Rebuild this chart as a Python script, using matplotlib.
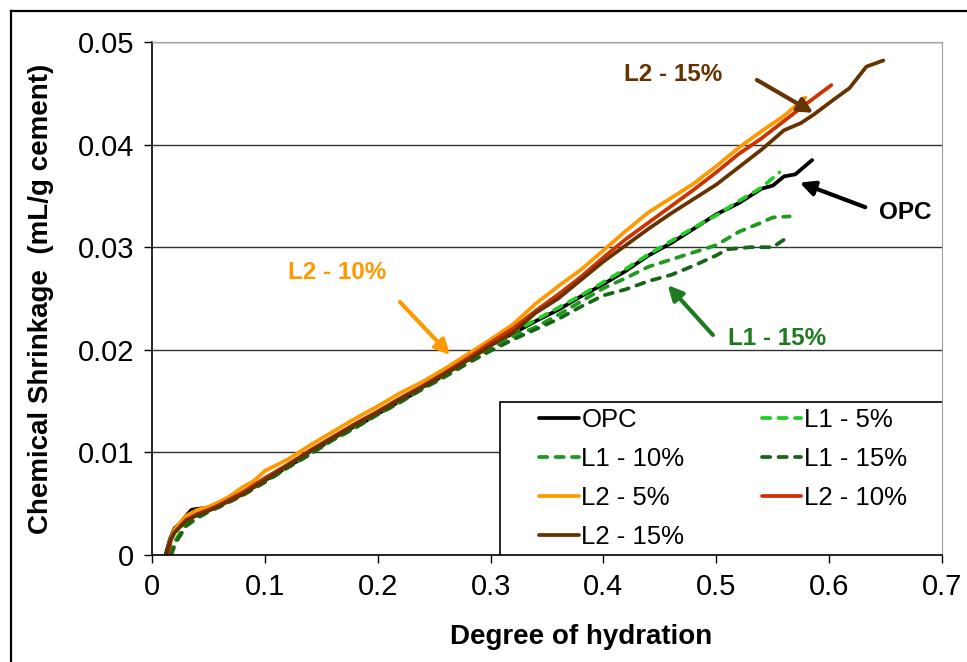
import matplotlib
matplotlib.use("Agg")
import matplotlib.pyplot as plt
from matplotlib.lines import Line2D
from matplotlib.patches import Rectangle

plt.rcParams["font.family"] = ["Liberation Sans", "DejaVu Sans"]

# ---- data ----
x_ticks = [0, 0.1, 0.2, 0.3, 0.4, 0.5, 0.6, 0.7]
x_tick_labels = ["0", "0.1", "0.2", "0.3", "0.4", "0.5", "0.6", "0.7"]
y_ticks = [0, 0.01, 0.02, 0.03, 0.04, 0.05]
y_tick_labels = ["0", "0.01", "0.02", "0.03", "0.04", "0.05"]

opc_x = [0.012, 0.016, 0.02, 0.025, 0.03, 0.035, 0.04, 0.05, 0.06, 0.07, 0.08, 0.09,
         0.10, 0.11, 0.12, 0.13, 0.14, 0.15, 0.16, 0.17, 0.18, 0.19, 0.20, 0.21, 0.22,
         0.23, 0.24, 0.25, 0.26, 0.27, 0.28, 0.29, 0.30, 0.32, 0.34, 0.36, 0.38, 0.40,
         0.42, 0.44, 0.46, 0.48, 0.50, 0.52, 0.54, 0.55, 0.56, 0.57, 0.585]
opc_y = [0.0, 0.0016, 0.0026, 0.0031, 0.0038, 0.0044, 0.0045, 0.0046, 0.0050, 0.0055,
         0.0060, 0.0066, 0.0073, 0.0078, 0.0087, 0.0092, 0.0101, 0.0106, 0.0114, 0.0119,
         0.0126, 0.0131, 0.0138, 0.0143, 0.0151, 0.0156, 0.0164, 0.0169, 0.0177, 0.0183,
         0.0191, 0.0197, 0.0205, 0.0216, 0.0228, 0.0239, 0.0252, 0.0264, 0.0277, 0.0292,
         0.0304, 0.0318, 0.0332, 0.0343, 0.0357, 0.0360, 0.0369, 0.0371, 0.0385]

l1_5_x = [0.015, 0.02, 0.025, 0.03, 0.04, 0.05, 0.06, 0.08, 0.10, 0.12, 0.14, 0.16,
          0.18, 0.20, 0.22, 0.24, 0.26, 0.28, 0.30, 0.32, 0.34, 0.36, 0.38, 0.40, 0.42,
          0.44, 0.46, 0.48, 0.50, 0.52, 0.54, 0.556]
l1_5_y = [0.0, 0.0012, 0.0022, 0.0030, 0.0038, 0.0043, 0.0048, 0.0058, 0.0072, 0.0085,
          0.0099, 0.0112, 0.0124, 0.0137, 0.0150, 0.0162, 0.0176, 0.0189, 0.0203, 0.0217,
          0.0229, 0.0241, 0.0253, 0.0266, 0.0279, 0.0293, 0.0306, 0.0319, 0.0331, 0.0345,
          0.0358, 0.0373]

l1_10_x = [0.016, 0.02, 0.025, 0.03, 0.04, 0.05, 0.06, 0.08, 0.10, 0.12, 0.14, 0.16,
           0.18, 0.20, 0.22, 0.24, 0.26, 0.28, 0.30, 0.32, 0.34, 0.36, 0.38, 0.40, 0.42,
           0.44, 0.46, 0.48, 0.50, 0.52, 0.54, 0.55, 0.565]
l1_10_y = [0.0, 0.0013, 0.0020, 0.0029, 0.0037, 0.0043, 0.0048, 0.0059, 0.0071, 0.0086,
           0.0098, 0.0113, 0.0124, 0.0138, 0.0149, 0.0163, 0.0175, 0.0189, 0.0201, 0.0213,
           0.0222, 0.0234, 0.0247, 0.0260, 0.0270, 0.0281, 0.0288, 0.0295, 0.0302, 0.0315,
           0.0324, 0.0329, 0.0330]

l1_15_x = [0.017, 0.021, 0.025, 0.03, 0.04, 0.05, 0.06, 0.08, 0.10, 0.12, 0.14, 0.16,
           0.18, 0.20, 0.22, 0.24, 0.26, 0.28, 0.30, 0.32, 0.34, 0.36, 0.38, 0.40, 0.42,
           0.44, 0.46, 0.48, 0.50, 0.51, 0.53, 0.55, 0.565]
l1_15_y = [0.0, 0.0012, 0.0019, 0.0028, 0.0036, 0.0042, 0.0047, 0.0058, 0.0071, 0.0085,
           0.0098, 0.0112, 0.0124, 0.0137, 0.0149, 0.0162, 0.0174, 0.0187, 0.0199, 0.0210,
           0.0220, 0.0230, 0.0242, 0.0253, 0.0259, 0.0267, 0.0273, 0.0282, 0.0292, 0.0298,
           0.0300, 0.0300, 0.0311]

l2_5_x = [0.013, 0.016, 0.02, 0.03, 0.04, 0.05, 0.06, 0.07, 0.08, 0.09, 0.10, 0.12,
          0.14, 0.16, 0.18, 0.20, 0.22, 0.24, 0.26, 0.28, 0.30, 0.32, 0.34, 0.36, 0.38,
          0.40, 0.42, 0.44, 0.46, 0.48, 0.50, 0.52, 0.54, 0.56, 0.579]
l2_5_y = [0.0, 0.0015, 0.0025, 0.0038, 0.0044, 0.0047, 0.0052, 0.0058, 0.0066, 0.0072,
          0.0082, 0.0093, 0.0107, 0.0120, 0.0133, 0.0145, 0.0158, 0.0169, 0.0182, 0.0196,
          0.0210, 0.0225, 0.0245, 0.0262, 0.0278, 0.0297, 0.0316, 0.0334, 0.0348, 0.0362,
          0.0379, 0.0397, 0.0413, 0.0428, 0.0446]

l2_10_x = [0.014, 0.017, 0.02, 0.03, 0.04, 0.05, 0.06, 0.08, 0.10, 0.12, 0.14, 0.16,
           0.18, 0.20, 0.22, 0.24, 0.26, 0.28, 0.30, 0.32, 0.34, 0.36, 0.38, 0.40, 0.42,
           0.44, 0.46, 0.48, 0.50, 0.52, 0.54, 0.56, 0.58, 0.602]
l2_10_y = [0.0, 0.0015, 0.0022, 0.0034, 0.0040, 0.0044, 0.0049, 0.0061, 0.0075, 0.0088,
           0.0102, 0.0115, 0.0128, 0.0140, 0.0153, 0.0165, 0.0178, 0.0192, 0.0207, 0.0221,
           0.0238, 0.0254, 0.0271, 0.0290, 0.0308, 0.0324, 0.0340, 0.0356, 0.0373, 0.0391,
           0.0406, 0.0423, 0.0440, 0.0458]

l2_15_x = [0.013, 0.016, 0.02, 0.03, 0.04, 0.05, 0.06, 0.08, 0.10, 0.12, 0.14, 0.16,
           0.18, 0.20, 0.22, 0.24, 0.26, 0.28, 0.30, 0.32, 0.34, 0.36, 0.38, 0.40, 0.42,
           0.44, 0.46, 0.48, 0.50, 0.52, 0.54, 0.56, 0.575, 0.586, 0.603, 0.618, 0.633,
           0.643, 0.648]
l2_15_y = [0.0, 0.0014, 0.0022, 0.0033, 0.0039, 0.0043, 0.0048, 0.0059, 0.0073, 0.0087,
           0.0101, 0.0114, 0.0127, 0.0139, 0.0152, 0.0164, 0.0177, 0.0190, 0.0204, 0.0217,
           0.0236, 0.0250, 0.0268, 0.0286, 0.0302, 0.0318, 0.0333, 0.0347, 0.0361, 0.0378,
           0.0395, 0.0414, 0.0421, 0.0429, 0.0443, 0.0455, 0.0476, 0.0480, 0.0482]

dash = (0, (2.2, 2.2))
series = [
    ("OPC", opc_x, opc_y, "black", "-"),
    ("L1 - 5%", l1_5_x, l1_5_y, "#22cc22", dash),
    ("L1 - 10%", l1_10_x, l1_10_y, "#1f9a1f", dash),
    ("L1 - 15%", l1_15_x, l1_15_y, "#176617", dash),
    ("L2 - 5%", l2_5_x, l2_5_y, "#ff9900", "-"),
    ("L2 - 10%", l2_10_x, l2_10_y, "#cc3300", "-"),
    ("L2 - 15%", l2_15_x, l2_15_y, "#663300", "-"),
]


def main():
    fig = plt.figure(figsize=(9.67, 6.62), dpi=100)
    ax = fig.add_axes([152 / 967, 107 / 662, 790 / 967, 513 / 662])

    handles = {}
    for label, xs, ys, color, ls in series:
        (h,) = ax.plot(xs, ys, color=color, linestyle=ls, lw=2.7, label=label,
                       solid_capstyle="round", dash_capstyle="round")
        handles[label] = h

    ax.set_xlim(0, 0.7)
    ax.set_ylim(0, 0.05)
    ax.set_xticks(x_ticks)
    ax.set_xticklabels(x_tick_labels)
    ax.set_yticks(y_ticks)
    ax.set_yticklabels(y_tick_labels)
    ax.tick_params(direction="out", length=6, width=1, labelsize=21, pad=7)
    ax.yaxis.grid(True, color="#303030", lw=1)
    ax.set_axisbelow(True)
    for side in ["top", "right"]:
        ax.spines[side].set_color("#a0a0a0")
    for side in ["left", "bottom"]:
        ax.spines[side].set_linewidth(1.2)

    ax.set_xlabel("Degree of hydration", fontsize=20, fontweight="bold")
    ax.xaxis.set_label_coords(0.543, -0.135)
    ax.set_ylabel("Chemical Shrinkage  (mL/g cement)", fontsize=20,
                  fontweight="bold", labelpad=17)

    # legend frame drawn by hand (wider side padding than matplotlib gives)
    to_ax = ax.transAxes.inverted()
    (bx0, by0), (bx1, by1) = to_ax.transform([(500, 662 - 555), (943, 662 - 402)])
    ax.add_patch(Rectangle((bx0, by0), bx1 - bx0, by1 - by0, transform=ax.transAxes,
                           facecolor="white", edgecolor="black", lw=1.2, zorder=4))

    # row-major legend order
    order = ["OPC", "L1 - 10%", "L2 - 5%", "L2 - 15%", "L1 - 5%", "L1 - 15%", "L2 - 10%"]
    leg = ax.legend([handles[k] for k in order], order, ncol=2, loc="center",
                    bbox_to_anchor=((bx0 + bx1) / 2 + 0.002, (by0 + by1) / 2),
                    fontsize=18.5, frameon=False,
                    handlelength=1.55, handletextpad=0.1, columnspacing=3.0,
                    labelspacing=0.58, borderpad=0.2)
    leg.set_zorder(5)

    arrow_kw = dict(arrowstyle="-|>", lw=3, mutation_scale=22, shrinkA=0, shrinkB=0)
    ax.annotate("", xy=(0.586, 0.0431), xytext=(0.536, 0.0463),
                arrowprops=dict(color="#663300", **arrow_kw))
    ax.text(0.4617, 0.0468, "L2 - 15%", color="#663300", fontsize=17.5,
            fontweight="bold", ha="center", va="center")
    ax.annotate("", xy=(0.574, 0.0363), xytext=(0.632, 0.0339),
                arrowprops=dict(color="black", **arrow_kw))
    ax.text(0.667, 0.0334, "OPC", color="black", fontsize=17.5,
            fontweight="bold", ha="center", va="center")
    ax.annotate("", xy=(0.2641, 0.0195), xytext=(0.2197, 0.02466),
                arrowprops=dict(color="#ff9900", **arrow_kw))
    ax.text(0.164, 0.02758, "L2 - 10%", color="#ff9900", fontsize=17.5,
            fontweight="bold", ha="center", va="center")
    ax.annotate("", xy=(0.457, 0.0263), xytext=(0.497, 0.02144),
                arrowprops=dict(color="#1e7a1e", **arrow_kw))
    ax.text(0.5538, 0.02115, "L1 - 15%", color="#1e7a1e", fontsize=17.5,
            fontweight="bold", ha="center", va="center")

    # outer border of the chart area
    x0, y0 = 11 / 967, 1 - 11 / 662
    fig.add_artist(Line2D([x0, x0], [-0.01, y0], color="black", lw=1.6))
    fig.add_artist(Line2D([x0, 1.01], [y0, y0], color="black", lw=1.6))

    fig.savefig("out.png", dpi=100)
    plt.close(fig)


if __name__ == "__main__":
    main()
